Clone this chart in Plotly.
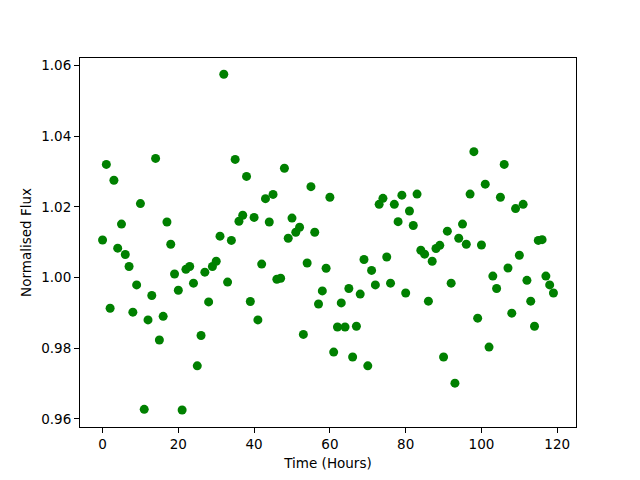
import plotly.graph_objects as go

time_hours = list(range(120))
flux = [
    1.0106, 1.0320, 0.9913, 1.0275, 1.0083, 1.0151, 1.0065, 1.0031, 0.9902, 0.9979,
    1.0209, 0.9627, 0.9880, 0.9949, 1.0337, 0.9823, 0.9890, 1.0157, 1.0094, 1.0010,
    0.9964, 0.9625, 1.0023, 1.0031, 0.9984, 0.9750, 0.9836, 1.0015, 0.9931, 1.0031,
    1.0046, 1.0117, 1.0575, 0.9987, 1.0105, 1.0334, 1.0159, 1.0176, 1.0286, 0.9932,
    1.0170, 0.9880, 1.0038, 1.0223, 1.0157, 1.0235, 0.9995, 0.9998, 1.0309, 1.0111,
    1.0168, 1.0128, 1.0142, 0.9839, 1.0041, 1.0257, 1.0128, 0.9925, 0.9962, 1.0026,
    1.0227, 0.9789, 0.9860, 0.9928, 0.9860, 0.9969, 0.9775, 0.9862, 0.9953, 1.0051,
    0.9750, 1.0020, 0.9979, 1.0207, 1.0224, 1.0058, 0.9984, 1.0207, 1.0158, 1.0233,
    0.9956, 1.0188, 1.0147, 1.0236, 1.0077, 1.0066, 0.9933, 1.0046, 1.0082, 1.0091,
    0.9775, 1.0131, 0.9984, 0.9701, 1.0111, 1.0151, 1.0094, 1.0236, 1.0356, 0.9885,
    1.0092, 1.0264, 0.9803, 1.0004, 0.9969, 1.0227, 1.0320, 1.0027, 0.9899, 1.0195,
    1.0063, 1.0207, 0.9992, 0.9933, 0.9862, 1.0105, 1.0107, 1.0004, 0.9979, 0.9956,
]
x_ticks = [0, 20, 40, 60, 80, 100, 120]
y_ticks = [0.96, 0.98, 1.00, 1.02, 1.04, 1.06]

fig = go.Figure(go.Scatter(
    x=time_hours, y=flux, mode="markers",
    marker=dict(color="#008000", size=9, line=dict(width=0)),
))

axis_common = dict(
    showline=True, linecolor="black", linewidth=1, mirror=True,
    ticks="outside", ticklen=5, tickwidth=1, tickcolor="black",
    showgrid=False, zeroline=False, automargin=False,
    tickfont=dict(family="DejaVu Sans", size=13.5, color="black"),
)

# page body has an 8px default margin, so the figure is 8px smaller and margins compensate
fig.update_layout(
    width=632, height=472,
    margin=dict(l=72, r=64, t=50, b=53),
    plot_bgcolor="white", paper_bgcolor="white",
    showlegend=False,
    font=dict(family="DejaVu Sans", size=13.5, color="black"),
    xaxis=dict(range=[-5.95, 124.95], tickvals=x_ticks,
               title=dict(text="Time (Hours)", standoff=7, font=dict(size=13.5)),
               **axis_common),
    yaxis=dict(range=[0.9577, 1.0621], tickvals=y_ticks, tickformat=".2f",
               title=dict(text="Normalised Flux", standoff=6, font=dict(size=13.5)),
               **axis_common),
)

fig.write_html("out.html")
